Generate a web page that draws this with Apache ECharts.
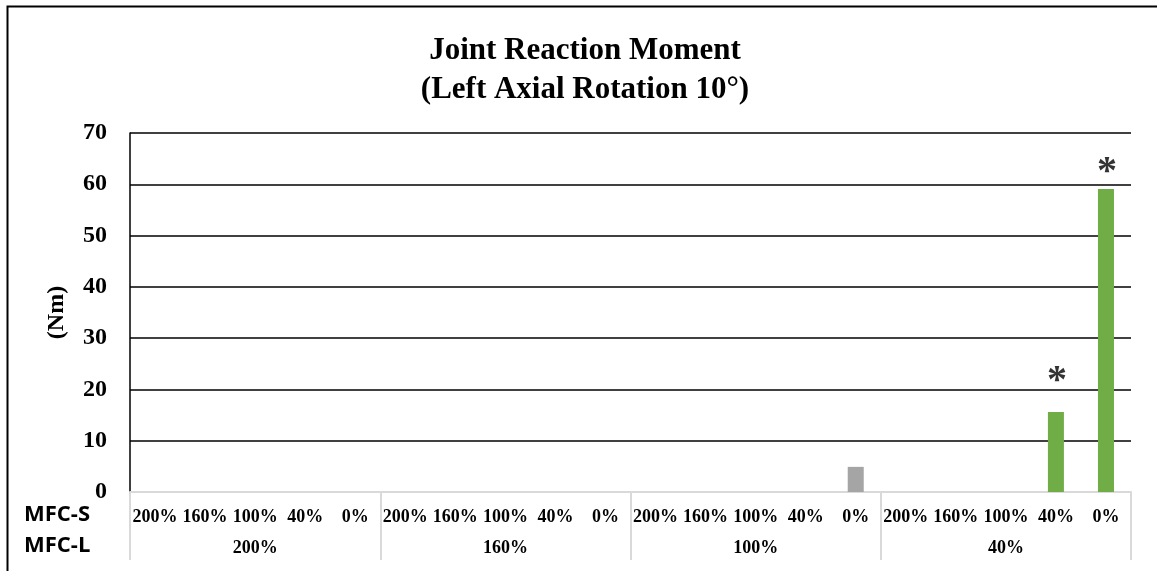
<!DOCTYPE html>
<html>
<head>
<meta charset="utf-8">
<title>Joint Reaction Moment</title>
<script src="https://cdn.jsdelivr.net/npm/echarts@6/dist/echarts.min.js"></script>
<style>
  html, body { margin: 0; padding: 0; background: #fff; }
  #chart { width: 1157px; height: 571px; }
</style>
</head>
<body>
<div id="chart"></div>
<script>
// MFC-S levels (inner labels) and MFC-L levels (outer groups)
const subCats = ['200%', '160%', '100%', '40%', '0%'];
const groupCats = ['200%', '160%', '100%', '40%'];
// joint reaction moment (Nm), ordered group by group
const moments = [
  0, 0, 0, 0, 0,
  0, 0, 0, 0, 0,
  0, 0, 0, 0, 4.9,
  0, 0, 0, 15.6, 59.1
];
// where the significance asterisks sit (Nm)
const starY = [
  null, null, null, null, null,
  null, null, null, null, null,
  null, null, null, null, null,
  null, null, null, 23.4, 64.3
];
const groupColors = ['#4472c4', '#ed7d31', '#a5a5a5', '#70ad47'];
const yTicks = { min: 0, max: 70, interval: 10 };

const serif = '"Liberation Serif", "Times New Roman", serif';
const xCats = groupCats.flatMap(g => subCats.map(s => g + '/' + s));

const chart = echarts.init(document.getElementById('chart'));
const option = {
  animation: false,
  backgroundColor: '#fff',
  title: {
    text: 'Joint Reaction Moment\n(Left Axial Rotation 10°)',
    left: 580,
    top: 26,
    textAlign: 'center',
    textStyle: {
      fontFamily: serif,
      fontWeight: 'bold',
      fontSize: 31,
      lineHeight: 39,
      color: '#000'
    }
  },
  grid: { left: 130, right: 26, top: 133, bottom: 79 },
  xAxis: [
    {
      type: 'category',
      data: xCats,
      axisLine: { lineStyle: { color: '#d9d9d9', width: 2 } },
      axisTick: { show: false },
      axisLabel: {
        interval: 0,
        margin: 16,
        formatter: v => v.split('/')[1],
        fontFamily: serif,
        fontWeight: 'bold',
        fontSize: 18,
        color: '#000'
      }
    },
    {
      type: 'category',
      data: groupCats,
      position: 'bottom',
      axisLine: { show: false },
      axisTick: { show: true, length: 68, lineStyle: { color: '#d9d9d9', width: 2 } },
      axisLabel: {
        margin: 47,
        fontFamily: serif,
        fontWeight: 'bold',
        fontSize: 18,
        color: '#000'
      }
    }
  ],
  yAxis: {
    type: 'value',
    min: yTicks.min,
    max: yTicks.max,
    interval: yTicks.interval,
    name: '(Nm)',
    nameLocation: 'middle',
    nameGap: 61,
    nameTextStyle: { fontFamily: serif, fontWeight: 'bold', fontSize: 24, color: '#000' },
    axisLine: { show: true, lineStyle: { color: '#000', width: 1.5 } },
    axisTick: { show: false },
    splitLine: { lineStyle: { color: '#000', width: 1.5 } },
    axisLabel: {
      margin: 23,
      fontFamily: serif,
      fontWeight: 'bold',
      fontSize: 24,
      color: '#000'
    }
  },
  series: [
    {
      type: 'bar',
      barWidth: '32%',
      data: moments.map((v, i) => ({
        value: v,
        itemStyle: { color: groupColors[Math.floor(i / subCats.length)] }
      }))
    },
    {
      type: 'scatter',
      symbolSize: 0,
      data: starY.map((v, i) => [i, v]),
      label: {
        show: true,
        position: 'inside',
        offset: [1, 10],
        formatter: '*',
        fontFamily: serif,
        fontWeight: 'bold',
        fontSize: 40,
        color: '#000'
      }
    }
  ],
  graphic: [
    {
      type: 'polyline',
      shape: { points: [[7.5, 571], [7.5, 6.5], [1157, 6.5]] },
      style: { stroke: '#000', lineWidth: 2, fill: null }
    },
    {
      type: 'text',
      left: 24,
      top: 504,
      style: { text: 'MFC-S', font: 'bold 22px "Open Sans", sans-serif', fill: '#000' }
    },
    {
      type: 'text',
      left: 24,
      top: 535,
      style: { text: 'MFC-L', font: 'bold 22px "Open Sans", sans-serif', fill: '#000' }
    }
  ]
};
chart.setOption(option);
window.addEventListener('resize', () => chart.resize());
</script>
</body>
</html>
